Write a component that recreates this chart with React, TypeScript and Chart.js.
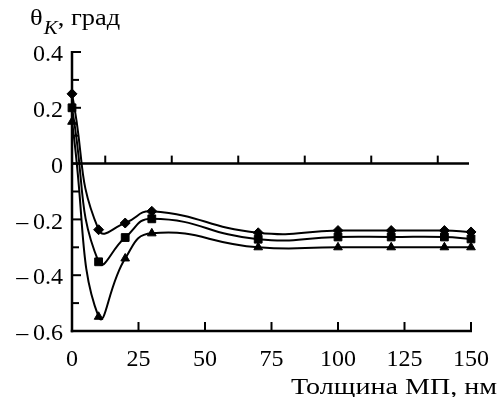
import React, { useEffect, useRef } from "react";
import { Chart, registerables } from "chart.js";

Chart.register(...registerables);

const thickness = [0, 10, 20, 30, 70, 100, 120, 140, 150];
const seriesDiamond = [0.25, -0.237, -0.213, -0.171, -0.248, -0.24, -0.24, -0.24, -0.245];
const seriesSquare = [0.2, -0.352, -0.265, -0.198, -0.271, -0.263, -0.263, -0.263, -0.27];
const seriesTriangle = [0.15, -0.549, -0.34, -0.25, -0.3, -0.3, -0.3, -0.3, -0.3];

const xTicksMajor = [0, 25, 50, 75, 100, 125, 150];
const xTicksZeroLine = [12.5, 37.5, 62.5, 87.5, 112.5, 137.5];
const yTicksAll = [0.4, 0.3, 0.2, 0.1, 0, -0.1, -0.2, -0.3, -0.4, -0.5, -0.6];

const yTitleMain = "θ";
const yTitleSub = "K";
const yTitleRest = ", град";
const xTitle = "Толщина МП, нм";

const FONT = "'Liberation Serif', 'Times New Roman', serif";

const fmt = (v: number) => {
  if (Math.abs(v) < 1e-9) return "0";
  return (v < 0 ? "\u2013\u2009" : "") + Math.abs(v).toFixed(1);
};

const decorPlugin = {
  id: "decor",
  afterDraw(chart: any) {
    const ctx = chart.ctx;
    const xs = chart.scales.x;
    const ys = chart.scales.y;
    const left = xs.getPixelForValue(0);
    const right = xs.getPixelForValue(150);
    const top = ys.getPixelForValue(0.4);
    const bottom = ys.getPixelForValue(-0.6);
    const zero = ys.getPixelForValue(0);
    ctx.save();
    ctx.strokeStyle = "#000";
    ctx.lineWidth = 2.5;
    ctx.lineCap = "butt";
    ctx.beginPath();
    ctx.moveTo(left, top - 1);
    ctx.lineTo(left, bottom + 1.25);
    ctx.stroke();
    ctx.beginPath();
    ctx.moveTo(left - 1.25, bottom);
    ctx.lineTo(right + 1, bottom);
    ctx.stroke();
    ctx.beginPath();
    ctx.moveTo(left, zero);
    ctx.lineTo(right - 2, zero);
    ctx.stroke();
    ctx.lineWidth = 2;
    yTicksAll.forEach((v, i) => {
      const y = ys.getPixelForValue(v);
      const len = i % 2 === 0 ? 9 : 7;
      ctx.beginPath();
      ctx.moveTo(left, y);
      ctx.lineTo(left + len, y);
      ctx.stroke();
    });
    xTicksMajor.forEach((v) => {
      if (v === 0) return;
      const x = xs.getPixelForValue(v);
      ctx.beginPath();
      ctx.moveTo(x, bottom);
      ctx.lineTo(x, bottom - 9);
      ctx.stroke();
    });
    xTicksZeroLine.forEach((v) => {
      const x = xs.getPixelForValue(v);
      ctx.beginPath();
      ctx.moveTo(x, zero);
      ctx.lineTo(x, zero - 8);
      ctx.stroke();
    });
    ctx.fillStyle = "#000";
    ctx.textBaseline = "alphabetic";
    ctx.textAlign = "left";
    // y title, slightly widened
    ctx.save();
    ctx.translate(30, 0);
    ctx.scale(1.1, 1);
    ctx.font = `24px ${FONT}`;
    let tx = 0;
    ctx.fillText(yTitleMain, tx, 25);
    tx += ctx.measureText(yTitleMain).width + 1;
    ctx.font = `italic 19px ${FONT}`;
    ctx.fillText(yTitleSub, tx, 34);
    tx += ctx.measureText(yTitleSub).width;
    ctx.font = `24px ${FONT}`;
    ctx.fillText(yTitleRest, tx, 25);
    ctx.restore();
    // x title, right aligned, widened
    ctx.save();
    ctx.translate(497, 0);
    ctx.scale(1.17, 1);
    ctx.font = `24px ${FONT}`;
    ctx.textAlign = "right";
    ctx.fillText(xTitle, 0, 394);
    ctx.restore();
    ctx.restore();
  },
};

export default function App() {
  const ref = useRef<HTMLCanvasElement | null>(null);
  useEffect(() => {
    if (!ref.current) return;
    const mk = (vals: number[], style: string, r: number) => ({
      data: thickness.map((x, i) => ({ x, y: vals[i] })),
      borderColor: "#000",
      backgroundColor: "#000",
      borderWidth: 2,
      pointStyle: style,
      pointRadius: r,
      pointBorderWidth: 1,
      pointBackgroundColor: "#000",
      pointBorderColor: "#000",
      tension: 0.5,
      clip: false as any,
    });
    const chart = new Chart(ref.current, {
      type: "line",
      data: {
        datasets: [
          mk(seriesDiamond, "rectRot", 5),
          mk(seriesSquare, "rect", 5.5),
          mk(seriesTriangle, "triangle", 5),
        ],
      },
      options: {
        responsive: false,
        animation: false,
        layout: { padding: { top: 52, right: 21, left: 0, bottom: 0 } },
        plugins: { legend: { display: false }, tooltip: { enabled: false } },
        scales: {
          x: {
            type: "linear",
            min: 0,
            max: 150,
            ticks: {
              stepSize: 25,
              color: "#000",
              padding: 14,
              maxRotation: 0,
              font: { family: FONT, size: 24 },
              callback: (v: any) => String(v),
            },
            grid: { display: false, drawTicks: false },
            border: { display: false },
            afterFit: (s: any) => {
              s.height = 66;
            },
          },
          y: {
            type: "linear",
            min: -0.6,
            max: 0.4,
            ticks: {
              stepSize: 0.2,
              color: "#000",
              padding: 9,
              labelOffset: 3,
              font: { family: FONT, size: 24 },
              callback: (v: any) => fmt(Number(v)),
            },
            grid: { display: false, drawTicks: false },
            border: { display: false },
            afterFit: (s: any) => {
              s.width = 72;
            },
          },
        },
      },
      plugins: [decorPlugin],
    });
    return () => chart.destroy();
  }, []);
  return (
    <div style={{ position: "fixed", left: 0, top: 0, width: 503, height: 397, background: "#fff" }}>
      <canvas ref={ref} width={503} height={397} style={{ display: "block" }} />
    </div>
  );
}
